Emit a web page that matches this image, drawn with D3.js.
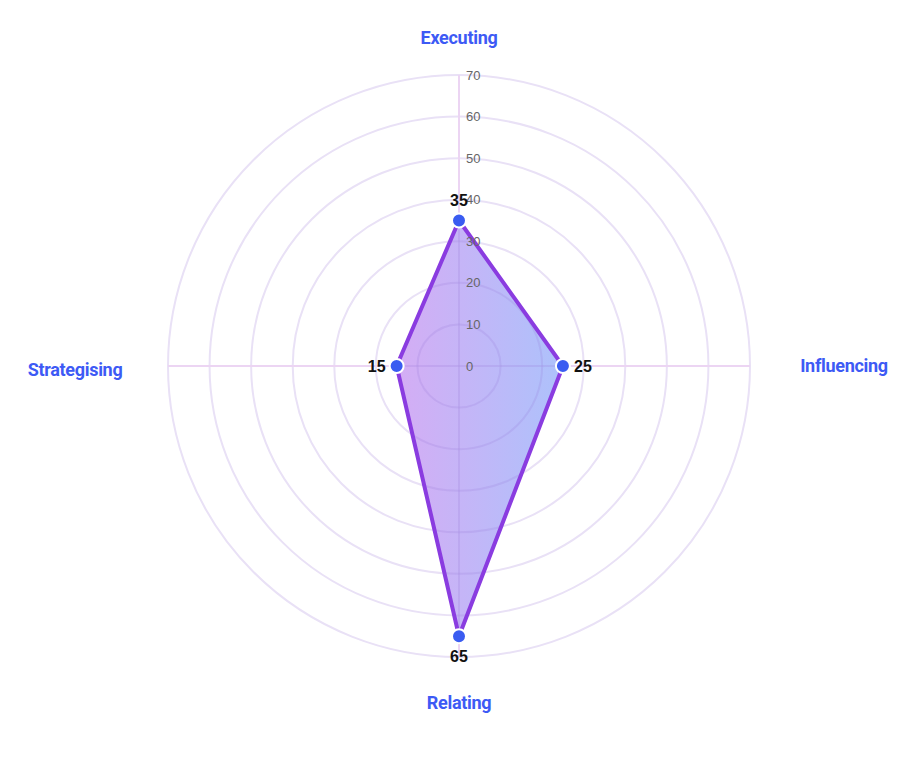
<!DOCTYPE html>
<html>
<head>
<meta charset="utf-8">
<script src="https://cdn.jsdelivr.net/npm/d3@7"></script>
<style>
  html, body { margin: 0; padding: 0; background: #fff; }
  svg { display: block; }
</style>
</head>
<body>
<svg id="chart" width="897" height="760"></svg>
<script>
const categories = ["Executing", "Influencing", "Relating", "Strategising"];
const values = [35, 25, 65, 15];
const ticks = [0, 10, 20, 30, 40, 50, 60, 70];

const W = 897, H = 760;
const cx = 459, cy = 366, R = 291;
const svg = d3.select("#chart");

const r = d3.scaleLinear().domain([0, 70]).range([0, R]);
const angle = d3.scalePoint().domain(categories).range([0, 2 * Math.PI * (categories.length - 1) / categories.length]);

const g = svg.append("g").attr("transform", `translate(${cx},${cy})`);

// gradient
const defs = svg.append("defs");
const grad = defs.append("linearGradient").attr("id", "fillGrad")
  .attr("x1", "0%").attr("y1", "0%").attr("x2", "100%").attr("y2", "0%");
grad.append("stop").attr("offset", "0%").attr("stop-color", "#d0a4f3");
grad.append("stop").attr("offset", "100%").attr("stop-color", "#a4bbfb");

// grid circles
g.selectAll("circle.grid").data(ticks.filter(t => t > 0)).enter()
  .append("circle").attr("class", "grid")
  .attr("r", d => r(d))
  .attr("fill", "none")
  .attr("stroke", "#e9e1f6")
  .attr("stroke-width", 2);

// axis lines
g.selectAll("line.axis").data(categories).enter()
  .append("line")
  .attr("x1", 0).attr("y1", 0)
  .attr("x2", d => R * Math.sin(angle(d)))
  .attr("y2", d => -R * Math.cos(angle(d)))
  .attr("stroke", "#ecd5f3")
  .attr("stroke-width", 2);

// polygon
const pts = categories.map((c, i) => [r(values[i]) * Math.sin(angle(c)), -r(values[i]) * Math.cos(angle(c))]);
const line = d3.line().curve(d3.curveLinearClosed);
defs.append("clipPath").attr("id", "polyClip")
  .append("path").attr("d", line(pts));
g.append("path")
  .attr("d", line(pts))
  .attr("fill", "url(#fillGrad)")
  .attr("fill-opacity", 0.9)
  .attr("stroke", "none");

// grid visible through fill
g.selectAll("circle.grid2").data(ticks.filter(t => t > 0)).enter()
  .append("circle")
  .attr("r", d => r(d))
  .attr("fill", "none")
  .attr("stroke", "#9a7fd6")
  .attr("stroke-opacity", 0.18)
  .attr("stroke-width", 2)
  .attr("clip-path", "url(#polyClip)");
g.selectAll("line.axis2").data(categories).enter()
  .append("line")
  .attr("x1", 0).attr("y1", 0)
  .attr("x2", d => R * Math.sin(angle(d)))
  .attr("y2", d => -R * Math.cos(angle(d)))
  .attr("stroke", "#9a7fd6")
  .attr("stroke-opacity", 0.18)
  .attr("stroke-width", 2)
  .attr("clip-path", "url(#polyClip)");

g.append("path")
  .attr("d", line(pts))
  .attr("fill", "none")
  .attr("stroke", "#8a3ce0")
  .attr("stroke-width", 4)
  .attr("stroke-linejoin", "round");

// tick labels
g.selectAll("text.tick").data(ticks).enter()
  .append("text")
  .attr("x", 7)
  .attr("y", d => -r(d))
  .attr("dy", "0.35em")
  .attr("font-family", "Liberation Sans, Arial, sans-serif")
  .attr("font-size", 13)
  .attr("fill", "#666")
  .text(d => d);

// points
g.selectAll("circle.pt").data(pts).enter()
  .append("circle")
  .attr("cx", d => d[0]).attr("cy", d => d[1])
  .attr("r", 7)
  .attr("fill", "#3a5cf1")
  .attr("stroke", "#fff")
  .attr("stroke-width", 2);

// value labels
const vOff = 20;
g.selectAll("text.val").data(categories).enter()
  .append("text")
  .attr("x", (c, i) => pts[i][0] + Math.sin(angle(c)) * vOff)
  .attr("y", (c, i) => pts[i][1] - Math.cos(angle(c)) * vOff)
  .attr("dy", "0.35em")
  .attr("text-anchor", "middle")
  .attr("font-family", "Liberation Sans, Arial, sans-serif")
  .attr("font-weight", "bold")
  .attr("font-size", 16)
  .attr("fill", "#111")
  .text((c, i) => values[i]);

// category labels
const labOff = [[0, -R - 37], [R + 94, 0], [0, R + 46], [-R - 93, 4]];
g.selectAll("text.cat").data(categories).enter()
  .append("text")
  .attr("x", (c, i) => labOff[i][0])
  .attr("y", (c, i) => labOff[i][1])
  .attr("dy", "0.35em")
  .attr("text-anchor", "middle")
  .attr("font-family", "Roboto, sans-serif")
  .attr("font-weight", "bold")
  .attr("font-size", 18)
  .attr("letter-spacing", "-0.3")
  .attr("fill", "#3d5af5")
  .text(c => c);
</script>
</body>
</html>
